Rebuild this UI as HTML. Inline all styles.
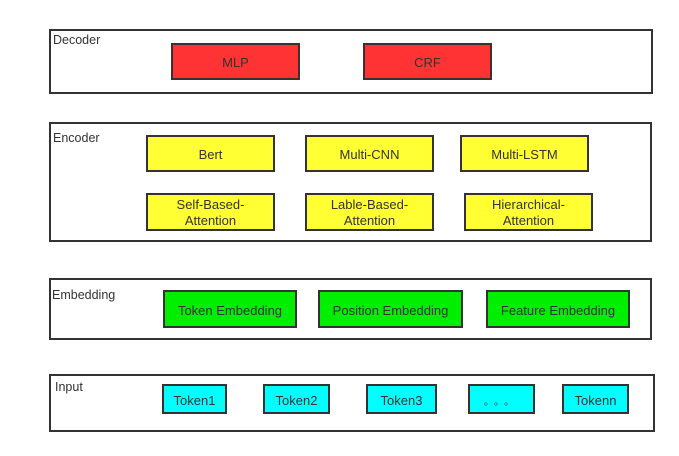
<!DOCTYPE html>
<html><head><style>
body{margin:0;width:679px;height:456px;background:#fff;position:relative;overflow:hidden;font-family:"Liberation Sans",sans-serif;color:#333;}
.g{position:absolute;border:2px solid #333;box-sizing:border-box;background:#fff;}
.l{position:absolute;font-size:12.5px;}
.b{position:absolute;border:2px solid #333;box-sizing:border-box;display:flex;align-items:center;justify-content:center;text-align:center;font-size:13px;line-height:16px;padding-top:3px;}
.r{background:#ff3333}.y{background:#ffff33}.gr{background:#00ee00}.c{background:#00ffff}
</style></head><body>
<div class="g" style="left:49px;top:29px;width:604px;height:65px"></div>
<div class="l" style="left:53px;top:33px">Decoder</div>
<div class="b r" style="left:171px;top:43px;width:129px;height:37px">MLP</div>
<div class="b r" style="left:363px;top:43px;width:129px;height:37px">CRF</div>

<div class="g" style="left:49px;top:122px;width:603px;height:120px"></div>
<div class="l" style="left:53px;top:131px">Encoder</div>
<div class="b y" style="left:146px;top:135px;width:129px;height:37px">Bert</div>
<div class="b y" style="left:305px;top:135px;width:129px;height:37px">Multi-CNN</div>
<div class="b y" style="left:460px;top:135px;width:129px;height:37px">Multi-LSTM</div>
<div class="b y" style="left:146px;top:193px;width:129px;height:38px;padding-top:1px">Self-Based-<br>Attention</div>
<div class="b y" style="left:305px;top:193px;width:129px;height:38px;padding-top:1px">Lable-Based-<br>Attention</div>
<div class="b y" style="left:464px;top:193px;width:129px;height:38px;padding-top:1px">Hierarchical-<br>Attention</div>

<div class="g" style="left:49px;top:278px;width:603px;height:62px"></div>
<div class="l" style="left:52px;top:288px">Embedding</div>
<div class="b gr" style="left:163px;top:290px;width:134px;height:38px">Token Embedding</div>
<div class="b gr" style="left:318px;top:290px;width:145px;height:38px">Position Embedding</div>
<div class="b gr" style="left:486px;top:290px;width:144px;height:38px">Feature Embedding</div>

<div class="g" style="left:49px;top:374px;width:606px;height:58px"></div>
<div class="l" style="left:55px;top:380px">Input</div>
<div class="b c" style="left:162px;top:384px;width:65px;height:30px">Token1</div>
<div class="b c" style="left:263px;top:384px;width:67px;height:30px">Token2</div>
<div class="b c" style="left:366px;top:384px;width:71px;height:30px">Token3</div>
<div class="b c" style="left:468px;top:384px;width:67px;height:30px;padding-top:8px;font-size:10px;letter-spacing:5px">。。。</div>
<div class="b c" style="left:562px;top:384px;width:67px;height:30px">Tokenn</div>
</body></html>
